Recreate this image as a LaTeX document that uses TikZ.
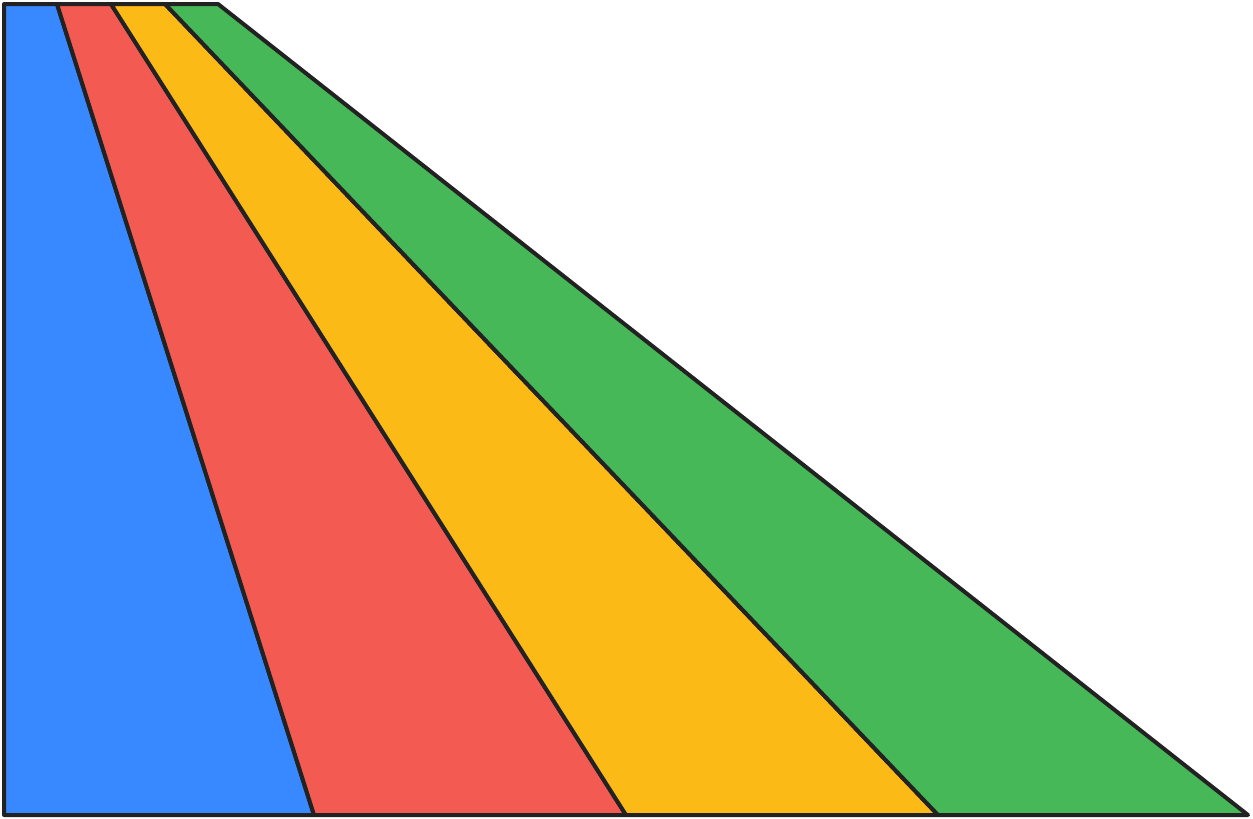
\documentclass[tikz,border=0pt]{standalone}
\definecolor{cblue}{HTML}{3888FF}
\definecolor{cred}{HTML}{F25A52}
\definecolor{cyellow}{HTML}{FCBA16}
\definecolor{cgreen}{HTML}{46B858}
\definecolor{cline}{HTML}{222222}
\begin{document}
\begin{tikzpicture}[x=1pt,y=-1pt,
  band/.style={draw=cline,line width=4pt,line join=round}]
\useasboundingbox (0,0) rectangle (1253,819);
\coordinate (t0) at (4,4);
\coordinate (t1) at (57,4);
\coordinate (t2) at (111,4);
\coordinate (t3) at (165,4);
\coordinate (t4) at (218,4);
\coordinate (b0) at (4,815);
\coordinate (b1) at (314,815);
\coordinate (b2) at (626,815);
\coordinate (b3) at (938,815);
\coordinate (b4) at (1248,815);
\path[band,fill=cblue] (t0) -- (t1) -- (b1) -- (b0) -- cycle;
\path[band,fill=cred] (t1) -- (t2) -- (b2) -- (b1) -- cycle;
\path[band,fill=cyellow] (t2) -- (t3) -- (b3) -- (b2) -- cycle;
\path[band,fill=cgreen] (t3) -- (t4) -- (b4) -- (b3) -- cycle;
\end{tikzpicture}
\end{document}
